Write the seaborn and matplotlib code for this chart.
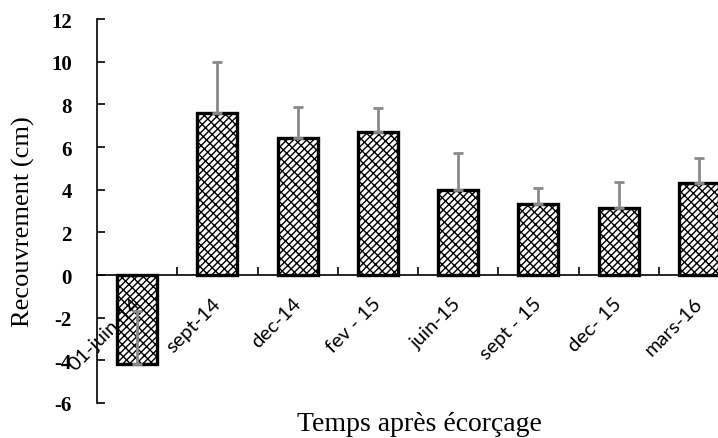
import numpy as np
import matplotlib
matplotlib.use("Agg")
import matplotlib.pyplot as plt
import matplotlib.transforms as mtransforms
import seaborn as sns

# data
periods = ["01-juin-14", "sept-14", "dec-14", "fev - 15", "juin-15", "sept - 15", "dec- 15", "mars-16"]
recouvrement = [-4.16, 7.60, 6.43, 6.71, 3.99, 3.32, 3.12, 4.30]
erreur = [2.45, 2.37, 1.45, 1.13, 1.71, 0.76, 1.26, 1.17]
y_ticks = [-6, -4, -2, 0, 2, 4, 6, 8, 10, 12]

sns.set_style("white")
plt.rcParams["hatch.linewidth"] = 1.0
plt.rcParams["hatch.color"] = "black"
plt.rcParams["text.color"] = "black"
plt.rcParams["axes.labelcolor"] = "black"
plt.rcParams["xtick.color"] = "black"
plt.rcParams["ytick.color"] = "black"

fig = plt.figure(figsize=(7.18, 4.39), dpi=100)
# right edge of the axes runs past the figure, as in the cropped original
ax = fig.add_axes([97 / 718, 35 / 439, 642 / 718, 384 / 439])

sns.barplot(x=periods, y=recouvrement, color="white", edgecolor="black",
            linewidth=2.4, width=0.5, ax=ax)
for p in ax.patches:
    p.set_hatch("/////\\\\\\")
    p.set_facecolor("white")
    p.set_zorder(1)

pos = np.arange(len(periods))
ax.errorbar(pos, recouvrement, yerr=[np.zeros(len(erreur)), erreur], fmt="none",
            ecolor="#8a8a8a", elinewidth=2, capsize=3.5, capthick=2, zorder=1.5)

ax.set_xlim(-0.5, len(periods) - 0.5)
ax.set_ylim(-6, 12)
ax.set_yticks(y_ticks)
ax.set_yticklabels([str(t) for t in y_ticks], fontfamily="Liberation Serif",
                   fontweight="bold", fontsize=15)

for s in ["top", "right"]:
    ax.spines[s].set_visible(False)
ax.spines["bottom"].set_position(("data", 0))
for s in ["left", "bottom"]:
    ax.spines[s].set_color("black")
    ax.spines[s].set_linewidth(1.2)

ax.tick_params(axis="y", direction="in", length=6, width=1.2, pad=18, left=True)
ax.tick_params(axis="x", which="major", length=0, pad=2)
ax.set_xticks(pos[:-1] + 0.5, minor=True)
ax.tick_params(axis="x", which="minor", direction="in", length=6, width=1.2, bottom=True)

ax.set_xticks(pos)
ax.set_xticklabels(periods, rotation=45, ha="right", va="top", rotation_mode="anchor",
                   fontfamily="Lato", fontsize=14.5)
for lbl in ax.get_xticklabels():
    lbl.set_transform(lbl.get_transform() + mtransforms.ScaledTranslation(-4 / 72, -12 / 72, fig.dpi_scale_trans))
ax.xaxis.set_zorder(5)

ax.set_ylabel("Recouvrement (cm)", fontfamily="Liberation Serif", fontsize=19)
ax.yaxis.set_label_coords(-0.097, 0.474)
ax.set_xlabel("Temps après écorçage", fontfamily="Liberation Serif", fontsize=20)
ax.xaxis.set_label_coords(0.503, -0.022)

fig.savefig("out.png", dpi=100)
